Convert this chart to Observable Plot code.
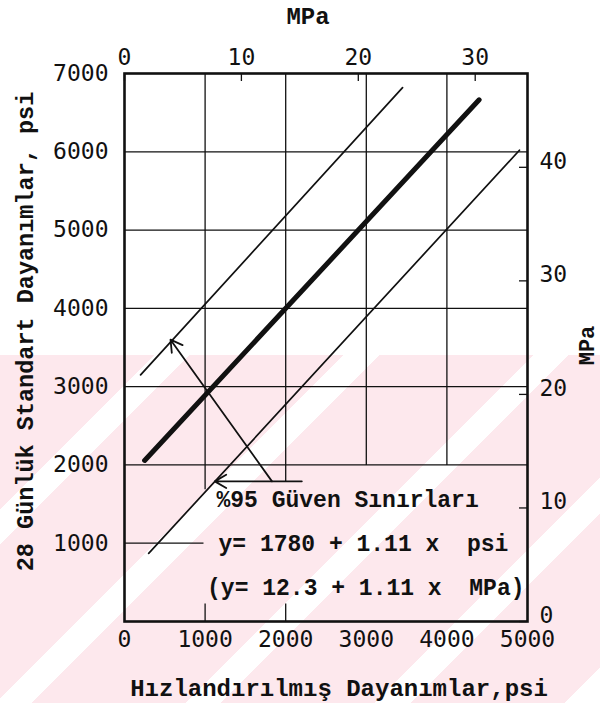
<!DOCTYPE html>
<html>
<head>
<meta charset="utf-8">
<script src="https://cdn.jsdelivr.net/npm/d3@7"></script>
<script src="https://cdn.jsdelivr.net/npm/@observablehq/plot@0.6"></script>
<style>
  body { margin: 0; background: #fff; }
  #chart { position: relative; width: 600px; height: 703px; overflow: hidden; }
  #band {
    position: absolute; left: 0; top: 355px; width: 600px; height: 348px;
    background: repeating-linear-gradient(135deg,
      #fde8ed 0px, #fde8ed 109px, #ffffff 109px, #ffffff 134px);
  }
  #chart svg { position: absolute; left: 0; top: 0; }
  #chart svg text { white-space: pre; }
</style>
</head>
<body>
<div id="chart"><div id="band"></div></div>
<script>
// Unit conversion between the two scales
const psiPerMPa = 145.04;

// Axis ticks
const psiTicksX = [0, 1000, 2000, 3000, 4000, 5000];
const psiTicksY = [1000, 2000, 3000, 4000, 5000, 6000, 7000];
const mpaTicksTop = [0, 10, 20, 30];
const mpaTicksRight = [0, 10, 20, 30, 40];

// Regression line y = a + b x (psi)
const fitIntercept = 1780;
const fitSlope = 1.11;
const fitRangeX = [250, 4400];

// 95% confidence limits (end points, psi)
const upperLimit = [{x: 200, y: 3150}, {x: 3450, y: 6820}];
const lowerLimit = [{x: 300, y: 870}, {x: 4900, y: 6020}];

// Grid segments, drawn around the legend text
const gridV = [
  {x: 1000, y1: 1690, y2: 7000}, {x: 1000, y1: 0, y2: 230},
  {x: 2000, y1: 1790, y2: 7000}, {x: 2000, y1: 0, y2: 230},
  {x: 3000, y1: 2000, y2: 7000}, {x: 4000, y1: 2000, y2: 7000}
];
const gridH = [
  {y: 1000, x1: 0, x2: 980},
  {y: 2000, x1: 0, x2: 5000}, {y: 3000, x1: 0, x2: 5000},
  {y: 4000, x1: 0, x2: 5000}, {y: 5000, x1: 0, x2: 5000},
  {y: 6000, x1: 0, x2: 5000}
];

// Leader arrows pointing at both limit lines
const leaders = [
  {x1: 1830, y1: 1790, x2: 571, y2: 3600},
  {x1: 2200, y1: 1790, x2: 1120, y2: 1790}
];

const fitLine = fitRangeX.map(x => ({x, y: fitIntercept + fitSlope * x}));
const notes = [
  {text: "%95 Güven Sınırları", x: 1141, y: 1551},
  {text: `y= ${fitIntercept} + ${fitSlope} x  psi`, x: 1166, y: 990},
  {text: `(y= ${(fitIntercept / psiPerMPa).toFixed(1)} + ${fitSlope} x  MPa)`, x: 1024, y: 428}
];

const mono = "Liberation Mono, DejaVu Sans Mono, monospace";
const digits = "DejaVu Sans Mono, monospace";
const plain = d => String(Math.round(d));
const toMPa = d => String(Math.round(d / psiPerMPa));

const chart = Plot.plot({
  width: 600,
  height: 703,
  marginLeft: 124,
  marginRight: 73,
  marginTop: 73,
  marginBottom: 82,
  style: {background: "transparent", fontFamily: digits, fontSize: "23px", color: "#111"},
  x: {domain: [0, 5000]},
  y: {domain: [0, 7000]},
  marks: [
    Plot.link(gridV, {x1: "x", x2: "x", y1: "y1", y2: "y2", stroke: "#111", strokeWidth: 1.3}),
    Plot.link(gridH, {x1: "x1", x2: "x2", y1: "y", y2: "y", stroke: "#111", strokeWidth: 1.3}),
    // inner ticks of the MPa scales
    Plot.tickX(mpaTicksTop.map(d => d * psiPerMPa), {x: d => d, insetBottom: 540, stroke: "#111", strokeWidth: 1.3}),
    Plot.tickY(mpaTicksRight.map(d => d * psiPerMPa), {y: d => d, insetLeft: 395, stroke: "#111", strokeWidth: 1.3}),
    Plot.frame({stroke: "#111", strokeWidth: 2.6}),
    Plot.line(upperLimit, {x: "x", y: "y", stroke: "#111", strokeWidth: 1.7}),
    Plot.line(lowerLimit, {x: "x", y: "y", stroke: "#111", strokeWidth: 1.7}),
    Plot.line(fitLine, {x: "x", y: "y", stroke: "#111", strokeWidth: 5, strokeLinecap: "round"}),
    Plot.arrow(leaders, {x1: "x1", y1: "y1", x2: "x2", y2: "y2", bend: 0, headLength: 11, stroke: "#111", strokeWidth: 1.8}),
    Plot.text(notes, {x: "x", y: "y", text: "text", textAnchor: "start", fontFamily: mono, fontSize: 23, fontWeight: "bold", fill: "#111"}),
    // axes
    Plot.axisX(psiTicksX, {anchor: "bottom", tickSize: 0, tickPadding: 9, tickFormat: plain, fontSize: 23}),
    Plot.axisX(mpaTicksTop.map(d => d * psiPerMPa), {anchor: "top", tickSize: 0, tickPadding: 9, tickFormat: toMPa, fontSize: 23}),
    Plot.axisY(psiTicksY, {anchor: "left", tickSize: 0, tickPadding: 16, tickFormat: plain, fontSize: 23}),
    Plot.axisY(mpaTicksRight.map(d => d * psiPerMPa), {anchor: "right", tickSize: 0, tickPadding: 12, dy: -6, tickFormat: toMPa, fontSize: 23}),
    // axis titles
    Plot.text(["Hızlandırılmış Dayanımlar,psi"], {frameAnchor: "bottom", textAnchor: "middle", dx: 13, dy: 74, fontFamily: mono, fontSize: 24, fontWeight: "bold", fill: "#111"}),
    Plot.text(["MPa"], {frameAnchor: "top", textAnchor: "middle", dx: -18, dy: -67, fontFamily: mono, fontSize: 24, fontWeight: "bold", fill: "#111"}),
    Plot.text(["28 Günlük Standart Dayanımlar, psi"], {frameAnchor: "left", textAnchor: "middle", rotate: -90, dx: -99, dy: -16, fontFamily: mono, fontSize: 23.5, fontWeight: "bold", fill: "#111"}),
    Plot.text(["MPa"], {frameAnchor: "right", textAnchor: "middle", rotate: -90, dx: 59, dy: -2, fontFamily: mono, fontSize: 22, fontWeight: "bold", fill: "#111"})
  ]
});

document.getElementById("chart").appendChild(chart);
</script>
</body>
</html>
